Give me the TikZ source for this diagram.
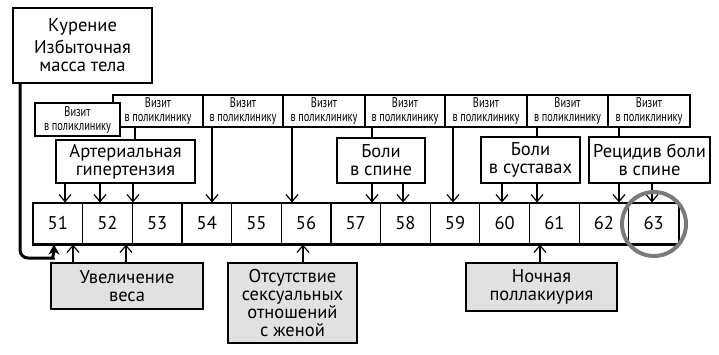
\documentclass[tikz,border=0pt]{standalone}
\usepackage{fontspec}
\setmainfont{PT Sans}
\newfontfamily\narrowfont[FakeStretch=0.74]{PT Sans}
\usetikzlibrary{arrows.meta}
\definecolor{boxgray}{RGB}{225,225,225}
\definecolor{ringgray}{RGB}{122,122,122}
\begin{document}
\begin{tikzpicture}[x=1pt,y=-1pt,
  every node/.style={inner sep=0pt, align=center},
  mainbox/.style={draw, line width=1.8pt, fill=white, font=\fontsize{18.5}{18}\selectfont},
  graybox/.style={mainbox, fill=boxgray},
  visitbox/.style={draw, line width=1.4pt, fill=white, font=\narrowfont\fontsize{14}{14}\selectfont},
  cellbox/.style={draw, line width=1.2pt, minimum width=49.65pt, minimum height=41pt, font=\fontsize{18.5}{18}\selectfont},
  link/.style={line width=1.2pt},
  arr/.style={link, -{Straight Barb[length=7pt,width=12pt,line width=1.2pt]}},
]
\useasboundingbox (0,0) rectangle (719,354);

% x positions for connectors
\foreach \x/\n in {20/xk,54/xt,65/a1,100/a2,133/a3,135/l2,212/l3,292/l4,372/l5,403/s2,453/l6,537/l7,502/j1,619/l8,652/r2,73/w1,126/w2,303/o1,540/n1}
  \coordinate (\n) at (\x,0);

% timeline
\foreach \n [count=\i from 0] in {51,...,63}
  \node[cellbox] (c\n) at ({33+49.65*(\i+0.5)},223.5) {\n};
\draw[line width=1.8pt] (c51.north west) rectangle (c63.south east);

% top-left box
\node[mainbox, minimum width=139pt, minimum height=75pt] (kur) at (82.5,45.5)
  {Курение\\[4pt]Избыточная\\масса тела};

% visit boxes
\node[visitbox, minimum width=90pt, minimum height=32pt] (v2) at (158,111) {Визит\\в поликлинику};
\node[visitbox, minimum width=80pt, minimum height=32pt] (v3) at (243,111) {Визит\\в поликлинику};
\node[visitbox, minimum width=82pt, minimum height=32pt] (v4) at (324,111) {Визит\\в поликлинику};
\node[visitbox, minimum width=80pt, minimum height=32pt] (v5) at (405,111) {Визит\\в поликлинику};
\node[visitbox, minimum width=82pt, minimum height=32pt] (v6) at (486,111) {Визит\\в поликлинику};
\node[visitbox, minimum width=81pt, minimum height=32pt] (v7) at (567.5,111) {Визит\\в поликлинику};
\node[visitbox, minimum width=82pt, minimum height=32pt] (v8) at (649,111) {Визит\\в поликлинику};
\node[visitbox, minimum width=85pt, minimum height=33pt] (v1) at (77.5,119.5) {Визит\\в поликлинику};

% middle boxes
\node[mainbox, minimum width=139pt, minimum height=43pt] (art) at (125.5,161.5) {Артериальная\\гипертензия};
\node[mainbox, minimum width=88pt, minimum height=45pt] (spine) at (381,160.5) {Боли\\в спине};
\node[mainbox, minimum width=99pt, minimum height=46pt] (joint) at (530.5,160) {Боли\\в суставах};
\node[mainbox, minimum width=121pt, minimum height=46pt] (recid) at (649.5,160) {Рецидив боли\\в спине};

% bottom boxes
\node[graybox, minimum width=152pt, minimum height=46pt] (weight) at (127,286) {Увеличение\\веса};
\node[graybox, minimum width=129pt, minimum height=80pt] (sex) at (292.5,303) {Отсутствие\\сексуальных\\отношений\\с женой};
\node[graybox, minimum width=151pt, minimum height=48pt] (noct) at (541.5,287) {Ночная\\поллакиурия};

% visit links
\draw[link] (v2.south -| l2) -- (art.north -| l2);
\draw[arr] (v3.south -| l3) -- (c54.north -| l3);
\draw[arr] (v4.south -| l4) -- (c56.north -| l4);
\draw[link] (v5.south -| l5) -- (spine.north -| l5);
\draw[arr] (v6.south -| l6) -- (c59.north -| l6);
\draw[link] (v7.south -| l7) -- (joint.north -| l7);
\draw[link] (v8.south -| l8) -- (recid.north -| l8);

% diagnosis arrows
\draw[arr] (art.south -| a1) -- (c51.north -| a1);
\draw[arr] (art.south -| a2) -- (c52.north -| a2);
\draw[arr] (art.south -| a3) -- (c53.north -| a3);
\draw[arr] (spine.south -| l5) -- (c57.north -| l5);
\draw[arr] (spine.south -| s2) -- (c58.north -| s2);
\draw[arr] (joint.south -| j1) -- (c60.north -| j1);
\draw[arr] (joint.south -| l7) -- (c61.north -| l7);
\draw[arr] (recid.south -| l8) -- (c62.north -| l8);
\draw[arr] (recid.south -| r2) -- (c63.north -| r2);

% bottom arrows
\draw[arr] (weight.north -| w1) -- (c51.south -| w1);
\draw[arr] (weight.north -| w2) -- (c52.south -| w2);
\draw[arr] (sex.north -| o1) -- (c56.south -| o1);
\draw[arr] (noct.north -| n1) -- (c61.south -| n1);

% thick link from risk factors
\draw[line width=3pt, rounded corners=8pt, -{Stealth[length=10pt,width=11pt]}]
  (kur.south -| xk) -- (20,258) -- (45,258) .. controls (52,258) and (54,254) .. (c51.south -| xt);

% ring around 63
\draw[ringgray, line width=4pt] (654,224) circle[radius=32pt];
\end{tikzpicture}
\end{document}
